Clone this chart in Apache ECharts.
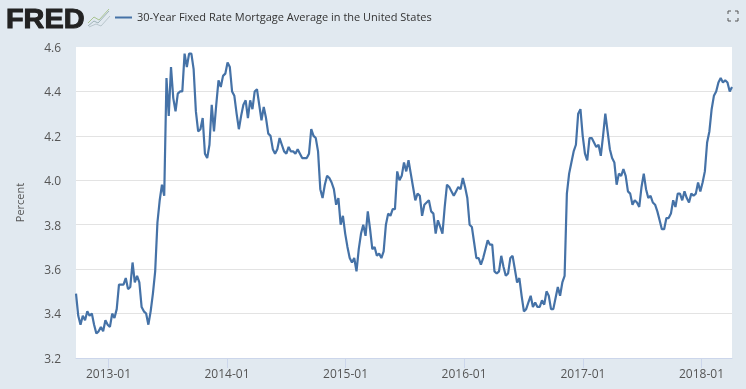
<!DOCTYPE html>
<html>
<head>
<meta charset="utf-8">
<style>
html, body { margin: 0; padding: 0; background: #e1e9f0; }
#chart { width: 746px; height: 389px; }
</style>
<script src="https://cdn.jsdelivr.net/npm/echarts@6/dist/echarts.min.js"></script>
</head>
<body>
<div id="chart"></div>
<script>
var seriesName = '30-Year Fixed Rate Mortgage Average in the United States';
var yTicks = ['3.2', '3.4', '3.6', '3.8', '4.0', '4.2', '4.4', '4.6'];
var xTickDates = ['2013-01-01', '2014-01-01', '2015-01-01', '2016-01-01', '2017-01-01', '2018-01-01'];
var firstDay = '2012-09-23';
var lastDay = '2018-04-05';
// weekly readings
var rates = [
    3.49, 3.39, 3.35, 3.39, 3.37, 3.41, 3.39, 3.40, 3.35, 3.31, 3.32, 3.34, 3.32, 3.37, 3.35, 3.34,
    3.40, 3.38, 3.42, 3.53, 3.53, 3.53, 3.56, 3.51, 3.52, 3.63, 3.54, 3.57, 3.54, 3.43, 3.41, 3.40,
    3.35, 3.41, 3.49, 3.59, 3.81, 3.91, 3.98, 3.93, 4.46, 4.29, 4.51, 4.37, 4.31, 4.39, 4.40, 4.40,
    4.57, 4.51, 4.57, 4.57, 4.50, 4.31, 4.22, 4.23, 4.28, 4.12, 4.10, 4.16, 4.34, 4.22, 4.34, 4.45,
    4.42, 4.47, 4.48, 4.53, 4.51, 4.40, 4.38, 4.30, 4.23, 4.29, 4.34, 4.36, 4.28, 4.36, 4.32, 4.40,
    4.41, 4.34, 4.27, 4.33, 4.28, 4.21, 4.20, 4.14, 4.12, 4.14, 4.19, 4.16, 4.13, 4.12, 4.15,
    4.13, 4.13, 4.12, 4.14, 4.12, 4.10, 4.10, 4.10, 4.12, 4.23, 4.20, 4.19, 4.13, 3.96, 3.92, 3.98,
    4.02, 4.01, 3.99, 3.96, 3.89, 3.92, 3.80, 3.84, 3.76, 3.70, 3.65, 3.63, 3.65, 3.59, 3.69, 3.76,
    3.80, 3.75, 3.86, 3.78, 3.69, 3.70, 3.66, 3.67, 3.65, 3.68, 3.80, 3.85, 3.84, 3.87, 3.87, 4.04,
    4.00, 4.02, 4.08, 4.04, 4.09, 4.03, 3.97, 3.91, 3.94, 3.93, 3.84, 3.89, 3.90, 3.91, 3.86, 3.85,
    3.76, 3.82, 3.79, 3.76, 3.88, 3.98, 3.97, 3.95, 3.93, 3.95, 3.97, 3.96, 4.01, 3.97, 3.92, 3.80,
    3.79, 3.72, 3.65, 3.65, 3.62, 3.65, 3.69, 3.73, 3.71, 3.71, 3.59, 3.58, 3.59, 3.66, 3.61, 3.57,
    3.58, 3.65, 3.66, 3.60, 3.54, 3.56,
    3.48, 3.41, 3.42, 3.45, 3.48, 3.43, 3.45, 3.43, 3.43, 3.46, 3.44, 3.50, 3.48, 3.42, 3.42, 3.47,
    3.52, 3.48, 3.54, 3.57, 3.94, 4.03, 4.08, 4.13, 4.16, 4.30, 4.32, 4.20, 4.12, 4.09, 4.19, 4.19,
    4.17, 4.15, 4.16, 4.11, 4.20, 4.30, 4.22, 4.14, 4.10, 4.08, 3.98, 4.03, 4.02, 4.05, 4.02, 3.95,
    3.94, 3.89, 3.91, 3.90, 3.88, 3.97, 4.03, 3.96, 3.92, 3.93, 3.90, 3.89, 3.86, 3.82, 3.78, 3.78,
    3.83, 3.83, 3.85, 3.91, 3.88, 3.94, 3.94, 3.91, 3.95, 3.92, 3.90, 3.94, 3.93, 3.94, 3.99, 3.95,
    3.99, 4.04, 4.17, 4.22, 4.32, 4.38, 4.40, 4.44, 4.46, 4.44, 4.45, 4.44, 4.40, 4.42
];

var minTime = Date.parse(firstDay);
var maxTime = Date.parse(lastDay);
var step = (maxTime - minTime) / (rates.length - 1);
var points = [];
for (var i = 0; i < rates.length; i++) {
    points.push([minTime + i * step, rates[i]]);
}
var xTicks = [];
for (var j = 0; j < xTickDates.length; j++) {
    xTicks.push(Date.parse(xTickDates[j]));
}

var textFont = '"Open Sans", sans-serif';
var myChart = echarts.init(document.getElementById('chart'), null, { renderer: 'canvas' });
var option = {
    animation: false,
    backgroundColor: '#e1e9f0',
    legend: {
        left: 115,
        top: 12,
        icon: 'rect',
        itemWidth: 17,
        itemHeight: 2,
        padding: 0,
        selectedMode: false,
        textStyle: { color: '#333333', fontFamily: textFont, fontSize: 11 }
    },
    grid: {
        left: 76,
        right: 14,
        top: 47,
        bottom: 31,
        show: true,
        backgroundColor: '#ffffff',
        borderWidth: 0
    },
    xAxis: {
        // plain numeric axis holding timestamps, ticks only at the new years
        type: 'value',
        min: minTime,
        max: maxTime,
        axisLine: { lineStyle: { color: '#ccd6eb', width: 1 } },
        axisTick: { length: 10, customValues: xTicks, lineStyle: { color: '#ccd6eb' } },
        axisLabel: {
            customValues: xTicks,
            margin: 11,
            color: '#555555',
            fontFamily: textFont,
            fontSize: 12,
            formatter: function (v) {
                var d = new Date(v);
                var m = d.getUTCMonth() + 1;
                return d.getUTCFullYear() + '-' + (m < 10 ? '0' + m : m);
            }
        },
        splitLine: { show: false }
    },
    yAxis: {
        type: 'value',
        min: +yTicks[0],
        max: +yTicks[yTicks.length - 1],
        interval: 0.2,
        name: 'Percent',
        nameLocation: 'middle',
        nameGap: 50,
        nameTextStyle: { color: '#555555', fontFamily: textFont, fontSize: 11 },
        axisLine: { show: false },
        axisTick: { show: false },
        axisLabel: {
            margin: 15,
            color: '#555555',
            fontFamily: textFont,
            fontSize: 12,
            // rich box with top padding nudges the text below the gridline
            rich: { v: { padding: [3, 0, 0, 0], color: '#555555', fontFamily: textFont, fontSize: 12 } },
            formatter: function (v) { return '{v|' + v.toFixed(1) + '}'; }
        },
        splitLine: { showMinLine: false, showMaxLine: false, lineStyle: { color: '#e3e3e3', width: 1 } }
    },
    series: [{
        name: seriesName,
        type: 'line',
        data: points,
        showSymbol: false,
        symbol: 'none',
        lineStyle: { color: '#4572a7', width: 2.2 },
        itemStyle: { color: '#4572a7' }
    }],
    graphic: [
        // logo
        { type: 'text', x: 6, y: 6, scaleX: 1.03, style: { text: 'FRED', fill: '#222222', stroke: '#222222', lineWidth: 1, font: 'bold 28px "Liberation Sans"' } },
        { type: 'polyline', shape: { points: [[88, 26], [94, 21], [98, 23], [109, 11]] }, style: { stroke: '#9fb3b8', fill: null, lineWidth: 1 } },
        { type: 'polyline', shape: { points: [[88, 23], [94, 17], [99, 20], [109, 9]] }, style: { stroke: '#a9c490', fill: null, lineWidth: 1 } },
        { type: 'polyline', shape: { points: [[89, 27], [96, 24], [101, 26], [110, 16]] }, style: { stroke: '#b9c6cc', fill: null, lineWidth: 1 } },
        // fullscreen icon
        { type: 'polyline', shape: { points: [[728, 14], [728, 11], [731, 11]] }, style: { stroke: '#555555', fill: null, lineWidth: 1 } },
        { type: 'polyline', shape: { points: [[735, 11], [738, 11], [738, 14]] }, style: { stroke: '#555555', fill: null, lineWidth: 1 } },
        { type: 'polyline', shape: { points: [[728, 18], [728, 21], [731, 21]] }, style: { stroke: '#555555', fill: null, lineWidth: 1 } },
        { type: 'polyline', shape: { points: [[735, 21], [738, 21], [738, 18]] }, style: { stroke: '#555555', fill: null, lineWidth: 1 } }
    ]
};
myChart.setOption(option);
</script>
</body>
</html>
